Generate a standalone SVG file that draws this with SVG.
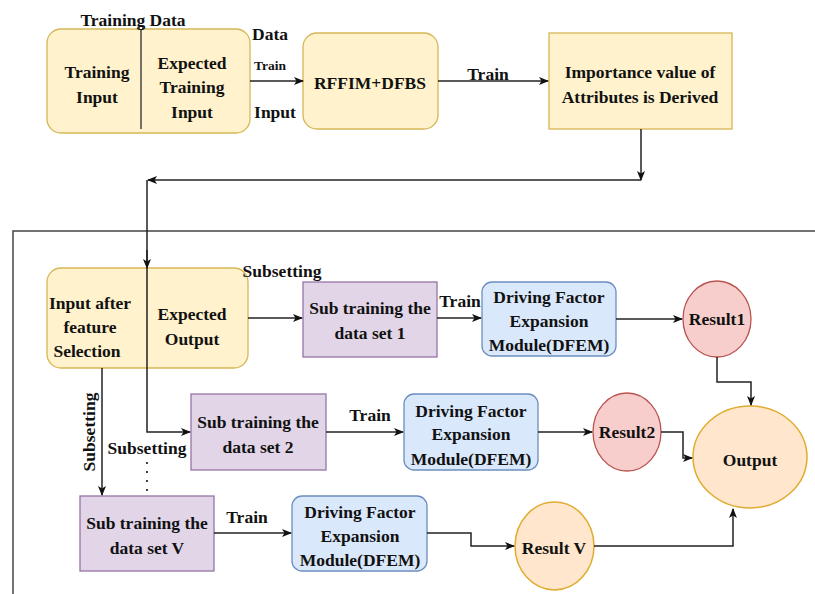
<svg xmlns="http://www.w3.org/2000/svg" width="815" height="594" viewBox="0 0 815 594">
<defs>
<marker id="arr" viewBox="0 0 10 10" refX="9" refY="5" markerWidth="10" markerHeight="10" markerUnits="userSpaceOnUse" orient="auto">
<path d="M0,1 L10,5 L0,9 L2.5,5 z" fill="#111"/>
</marker>
<style>
text{font-family:"Liberation Serif","Times New Roman",serif;font-weight:bold;font-size:17.5px;fill:#111;text-anchor:middle}
.sm{font-size:13.5px}
.yel{fill:#fff2cc;stroke:#d6b656;stroke-width:1.3}
.pur{fill:#e1d5e7;stroke:#9673a6;stroke-width:1.3}
.blu{fill:#dae8fc;stroke:#6c8ebf;stroke-width:1.3}
.red{fill:#f8cecc;stroke:#b85450;stroke-width:1.3}
.org{fill:#ffe6cc;stroke:#e0ac30;stroke-width:1.5}
.ln{fill:none;stroke:#222;stroke-width:1.5}
.ar{fill:none;stroke:#222;stroke-width:1.5;marker-end:url(#arr)}
.frame{fill:none;stroke:#444;stroke-width:1.5}
</style>
</defs>
<rect width="815" height="594" fill="#fff"/>
<path class="frame" d="M13,594 L13,231 L815,231"/>

<g id="trainingData">
<rect class="yel" x="47" y="29" width="203" height="104" rx="14"/>
<line x1="141" y1="28" x2="141" y2="129" stroke="#444" stroke-width="1.5"/>
<circle cx="141" cy="28" r="1.8" fill="#fff" stroke="#444" stroke-width="1"/>
<text x="133" y="26">Training Data</text>
<text x="97" y="78">Training</text>
<text x="97" y="103">Input</text>
<text x="192" y="69">Expected</text>
<text x="192" y="93">Training</text>
<text x="192" y="118">Input</text>
</g>

<g id="rffim">
<rect class="yel" x="303" y="33" width="135" height="96" rx="14"/>
<text x="370" y="89">RFFIM+DFBS</text>
</g>

<g id="importance">
<rect class="yel" x="549" y="33" width="183" height="96"/>
<text x="640" y="78">Importance value of</text>
<text x="640" y="103">Attributes is Derived</text>
</g>

<g id="inputAfter">
<rect class="yel" x="47" y="268" width="201" height="100" rx="14"/>
<text x="90" y="309">Input after</text>
<text x="90" y="333">feature</text>
<text x="87" y="357">Selection</text>
<text x="192" y="320">Expected</text>
<text x="192" y="345">Output</text>
</g>

<g id="sub1">
<rect class="pur" x="303" y="282" width="134" height="75"/>
<text x="370" y="314">Sub training the</text>
<text x="370" y="339">data set 1</text>
</g>

<g id="dfem1">
<rect class="blu" x="482" y="282" width="134" height="74" rx="10"/>
<text x="549" y="303">Driving Factor</text>
<text x="549" y="327">Expansion</text>
<text x="549" y="351">Module(DFEM)</text>
</g>

<g id="result1">
<ellipse class="red" cx="717" cy="319" rx="34" ry="38"/>
<text x="717" y="325">Result1</text>
</g>

<g id="sub2">
<rect class="pur" x="191" y="394" width="135" height="76"/>
<text x="258" y="428">Sub training the</text>
<text x="258" y="453">data set 2</text>
</g>

<g id="dfem2">
<rect class="blu" x="404" y="394" width="134" height="76" rx="10"/>
<text x="471" y="417">Driving Factor</text>
<text x="471" y="440">Expansion</text>
<text x="471" y="465">Module(DFEM)</text>
</g>

<g id="result2">
<ellipse class="red" cx="627" cy="432" rx="34" ry="39"/>
<text x="627" y="438">Result2</text>
</g>

<g id="subV">
<rect class="pur" x="80" y="496" width="134" height="75"/>
<text x="147" y="529">Sub training the</text>
<text x="147" y="554">data set V</text>
</g>

<g id="dfemV">
<rect class="blu" x="292" y="496" width="135" height="75" rx="10"/>
<text x="360" y="518">Driving Factor</text>
<text x="360" y="542">Expansion</text>
<text x="360" y="566">Module(DFEM)</text>
</g>

<g id="resultV">
<ellipse class="org" cx="554.5" cy="546" rx="39.5" ry="44"/>
<text x="554" y="554">Result V</text>
</g>

<g id="output">
<ellipse class="org" cx="750" cy="457" rx="57" ry="51"/>
<text x="750" y="466">Output</text>
</g>

<g id="connectors">
<path class="ar" d="M250,81 L303,81"/>
<path class="ar" d="M438,81 L548,81"/>
<path class="ar" d="M641,129 L641,180"/>
<path class="ar" d="M641,180 L148,180"/>
<path class="ln" d="M147,180 L147,262"/>
<path class="ar" d="M147,250 L147,268"/>
<path class="ar" d="M147,268 L147,432 L190,432"/>
<path class="ar" d="M248,318 L302,318"/>
<path class="ar" d="M437,318 L481,318"/>
<path class="ar" d="M616,319 L682,319"/>
<path class="ar" d="M717,357 L717,382 L751,382 L751,405"/>
<path class="ar" d="M326,432 L403,432"/>
<path class="ar" d="M538,432 L592,432"/>
<path class="ar" d="M661,432 L683,432 L683,458 L692,458"/>
<path class="ar" d="M102,368 L102,495"/>
<path class="ar" d="M214,533 L291,533"/>
<path class="ar" d="M427,533 L471,533 L471,546 L514,546"/>
<path class="ar" d="M594,546 L733,546 L733,509"/>
<line x1="147" y1="462" x2="147" y2="496" stroke="#444" stroke-width="2" stroke-dasharray="2,7"/>
</g>

<g id="labels">
<text x="270" y="40">Data</text>
<text class="sm" x="270" y="70">Train</text>
<text x="275" y="118">Input</text>
<text x="488" y="80">Train</text>
<text x="282" y="277">Subsetting</text>
<text x="460" y="307">Train</text>
<text x="370" y="421">Train</text>
<text x="147" y="454">Subsetting</text>
<text x="247" y="523">Train</text>
<text x="0" y="0" transform="translate(95,432) rotate(-90)">Subsetting</text>
</g>
</svg>
